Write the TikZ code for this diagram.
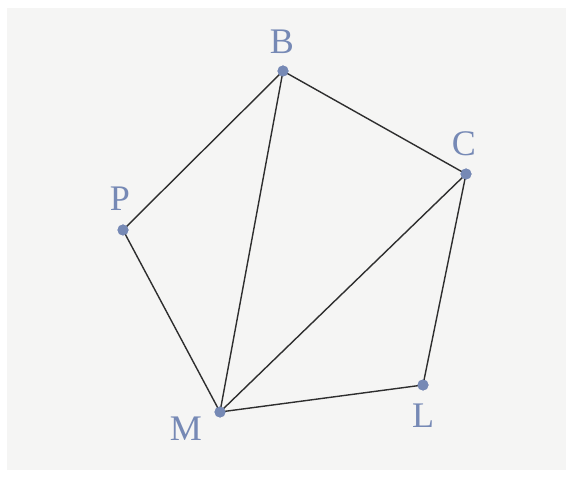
\documentclass[tikz,border=0pt]{standalone}
\usepackage{fontspec}
\setmainfont{Liberation Serif}
\definecolor{ptblue}{HTML}{7689B5}
\definecolor{edgegray}{HTML}{2E2E2E}
\definecolor{bggray}{HTML}{F5F5F4}
\tikzset{
  pt/.style={circle,fill=ptblue,inner sep=0pt,minimum size=11pt},
  lbl/.style={text=ptblue,font=\fontsize{36}{40}\selectfont,inner sep=0pt},
  edge/.style={draw=edgegray,line width=1.4pt}
}
\begin{document}
\begin{tikzpicture}[x=1pt,y=-1pt]
\useasboundingbox (0,0) rectangle (573,478);
\fill[white] (0,0) rectangle (573,478);
\fill[bggray] (7,8) rectangle (566,470);
\node[pt] (B) at (283,71) {};
\node[pt] (C) at (466,174) {};
\node[pt] (P) at (123,230) {};
\node[pt] (M) at (220,412) {};
\node[pt] (L) at (423,385) {};
\draw[edge] (P.center) -- (B.center);
\draw[edge] (B.center) -- (C.center);
\draw[edge] (B.center) -- (M.center);
\draw[edge] (C.center) -- (M.center);
\draw[edge] (C.center) -- (L.center);
\draw[edge] (P.center) -- (M.center);
\draw[edge] (M.center) -- (L.center);
\foreach \n in {B,C,P,M,L} \node[pt] at (\n) {};
\node[lbl] (lB) at (282,42) {B};
\node[lbl] (lC) at (464,144) {C};
\node[lbl] (lP) at (120,199) {P};
\node[lbl] (lM) at (186,429) {M};
\node[lbl] (lL) at (423,416) {L};
\end{tikzpicture}
\end{document}
